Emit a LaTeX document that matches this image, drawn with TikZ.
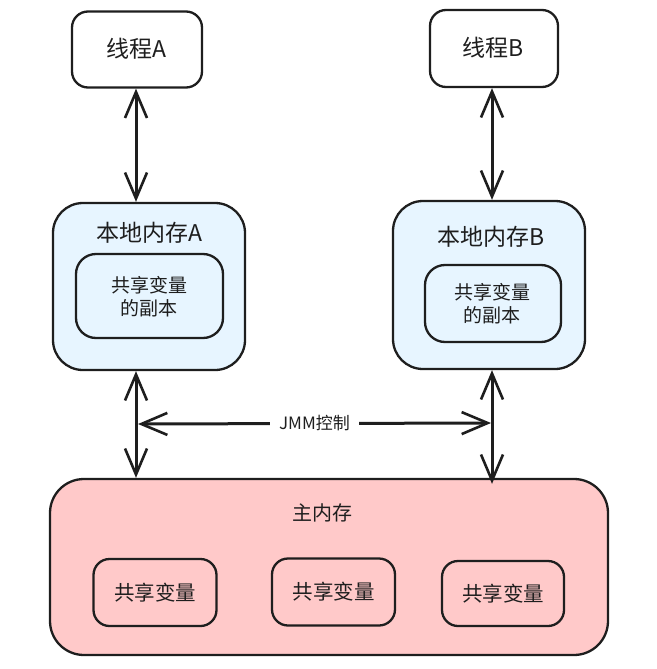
\documentclass[tikz,border=0pt]{standalone}
\usepackage{fontspec}
\newfontfamily\cjk{Noto Sans CJK SC}
\usetikzlibrary{arrows.meta}
\definecolor{ink}{HTML}{1E1E1E}
\definecolor{lblue}{HTML}{E7F5FF}
\definecolor{lpink}{HTML}{FFC9C9}
\begin{document}
\begin{tikzpicture}[x=1pt,y=-1pt,
  box/.style={draw=ink, line width=2.3pt, inner sep=0pt},
  lbl/.style={text=ink, font=\cjk, inner sep=0pt, align=center},
  tip/.style={Straight Barb[length=26pt,width=22pt,line width=2.6pt]},
  link/.style={draw=ink, line width=3pt, {Straight Barb[length=26pt,width=22pt,line width=2.6pt]}-{Straight Barb[length=26pt,width=22pt,line width=2.6pt]}}]
\useasboundingbox (0,0) rectangle (656,669);
% threads
\node[box, fill=white, rounded corners=16pt, minimum width=130pt, minimum height=76pt] (tA) at (137,49.5) {};
\node[lbl, font=\cjk\fontsize{23}{26}\selectfont] (tAt) at (136,49) {线程A};
\node[box, fill=white, rounded corners=16pt, minimum width=128pt, minimum height=77pt] (tB) at (494,48.5) {};
\node[lbl, font=\cjk\fontsize{23}{26}\selectfont] (tBt) at (493,48) {线程B};
% local memories
\node[box, fill=lblue, rounded corners=30pt, minimum width=192pt, minimum height=167pt] (lA) at (149,286.5) {};
\node[lbl, font=\cjk\fontsize{23}{26}\selectfont] (lAt) at (149,233) {本地内存A};
\node[box, fill=lblue, rounded corners=20pt, minimum width=147pt, minimum height=84pt] (iA) at (149.5,296) {};
\node[lbl, font=\cjk\fontsize{19}{23}\selectfont] (iAt) at (149,296.5) {共享变量\\的副本};
\node[box, fill=lblue, rounded corners=30pt, minimum width=192pt, minimum height=168pt] (lB) at (489,285) {};
\node[lbl, font=\cjk\fontsize{23}{26}\selectfont] (lBt) at (491,237) {本地内存B};
\node[box, fill=lblue, rounded corners=20pt, minimum width=136pt, minimum height=77pt] (iB) at (493,303.5) {};
\node[lbl, font=\cjk\fontsize{19}{23}\selectfont] (iBt) at (492,304) {共享变量\\的副本};
% main memory
\node[box, fill=lpink, rounded corners=34pt, minimum width=558pt, minimum height=176pt] (mm) at (329,567) {};
\node[lbl, font=\cjk\fontsize{20}{24}\selectfont] (mmt) at (322,513) {主内存};
\node[box, fill=lpink, rounded corners=16pt, minimum width=123pt, minimum height=67pt] (v1) at (155,592.5) {};
\node[box, fill=lpink, rounded corners=16pt, minimum width=123pt, minimum height=67pt] (v2) at (333.5,592) {};
\node[box, fill=lpink, rounded corners=16pt, minimum width=122pt, minimum height=65pt] (v3) at (503,593.5) {};
\node[lbl, font=\cjk\fontsize{20.5}{24}\selectfont] at (v1) {共享变量};
\node[lbl, font=\cjk\fontsize{20.5}{24}\selectfont] at (v2) {共享变量};
\node[lbl, font=\cjk\fontsize{20.5}{24}\selectfont] at (v3) {共享变量};
% connectors
\coordinate (xa) at (136,0);
\coordinate (xb) at (492,0);
\draw[link] (tA.south -| xa) -- (lA.north -| xa);
\draw[link] (tB.south -| xb) -- (lB.north -| xb);
\draw[link] (lA.south -| xa) -- (mm.north -| xa);
\draw[link] (lB.south -| xb) -- ([yshift=-6pt]mm.north -| xb);
\coordinate (ha) at (138,424);
\coordinate (hb) at (491,423);
\draw[link] (ha) -- (hb) node[midway, fill=white, inner xsep=9pt, inner ysep=2pt, text=ink, font=\cjk\fontsize{17}{20}\selectfont] (jmm) {JMM控制};
\end{tikzpicture}
\end{document}
